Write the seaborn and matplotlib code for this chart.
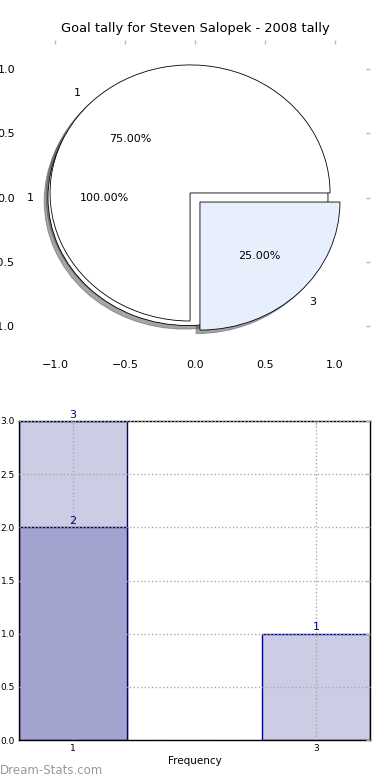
import matplotlib
matplotlib.use("Agg")
import matplotlib.pyplot as plt
import seaborn as sns

# ---- data ----
title = "Goal tally for Steven Salopek - 2008 tally"
full_labels = ["1"]
full_values = [1]
slice_labels = ["1", "3"]
slice_values = [3, 1]
pie_ticks = [-1.0, -0.5, 0.0, 0.5, 1.0]

bar_order = ["1", "2", "3"]
light_x = ["1", "3"]
light_values = [3, 1]
dark_x = ["1"]
dark_values = [2]
bar_ticks_labels = ["1", "3"]
y_ticks = [0.0, 0.5, 1.0, 1.5, 2.0, 2.5, 3.0]

sns.set_style("white")
plt.rcParams["font.family"] = ["DejaVu Sans"]
plt.rcParams["text.color"] = "black"
plt.rcParams["axes.labelcolor"] = "black"

fig = plt.figure(figsize=(3.9, 7.8), dpi=100)
ax1 = fig.add_axes([20 / 390, 1 - 355 / 780, 350 / 390, 315 / 780])
ax2 = fig.add_axes([19 / 390, 1 - 740 / 780, 351 / 390, 319 / 780])

# ---- pie ----
wp = dict(edgecolor="black", linewidth=0.6)
tp = dict(fontsize=8, color="black")
ax1.pie(full_values, labels=full_labels, colors=["white"], explode=[0.05],
        autopct="%.2f%%", shadow=True, wedgeprops=wp, textprops=tp, frame=True)
ax1.pie(slice_values, labels=slice_labels, colors=["white", "#e8effc"],
        explode=[0.05, 0.05], autopct="%.2f%%", shadow=True, wedgeprops=wp,
        textprops=tp, frame=True)
ax1.set_aspect("auto")
ax1.set_xlim(-1.25, 1.25)
ax1.set_ylim(-1.23, 1.23)
for s in ax1.spines.values():
    s.set_visible(False)
ax1.set_xticks(pie_ticks)
ax1.set_yticks(pie_ticks)
ax1.tick_params(direction="in", length=3, width=1, color="#b8b8b8",
                top=True, right=True, labelsize=8, labelcolor="black", pad=3.5)
ax1.set_title(title, fontsize=9.4, pad=5.5, color="black")
ax1.grid(False)

# ---- bars ----
sns.barplot(x=light_x, y=light_values, order=bar_order, color="#ccccE4",
            saturation=1, width=0.889, edgecolor="#000080", linewidth=1,
            ax=ax2, orient="x", errorbar=None)
sns.barplot(x=dark_x, y=dark_values, order=bar_order, color="#a3a3d0",
            saturation=1, width=0.889, edgecolor="#000080", linewidth=1,
            ax=ax2, orient="x", errorbar=None)
for c in ax2.containers:
    ax2.bar_label(c, fmt="%d", color="#000080", fontsize=8, padding=1)

ax2.set_xlim(-0.444, 2.444)
ax2.set_ylim(0, 3)
ax2.set_xticks([0, 2])
ax2.set_xticklabels(bar_ticks_labels)
ax2.set_yticks(y_ticks)
ax2.set_yticklabels([f"{v:.1f}" for v in y_ticks])
ax2.tick_params(direction="in", length=3, width=1, color="#b8b8b8",
                top=True, right=True, labelsize=6.5, labelcolor="black", pad=3)
ax2.set_axisbelow(False)
ax2.grid(True, linestyle=":", color="#aaaaaa", linewidth=1)
for s in ax2.spines.values():
    s.set_visible(True)
    s.set_color("black")
    s.set_linewidth(1)
ax2.set_xlabel("Frequency", fontsize=7.5, labelpad=2, color="black")
ax2.set_ylabel("")

fig.text(0.0, 1 - 770 / 780, "Dream-Stats.com", fontsize=8.5, color="#999999",
         ha="left", va="center", fontweight="medium")

fig.savefig("out.png", dpi=100)
